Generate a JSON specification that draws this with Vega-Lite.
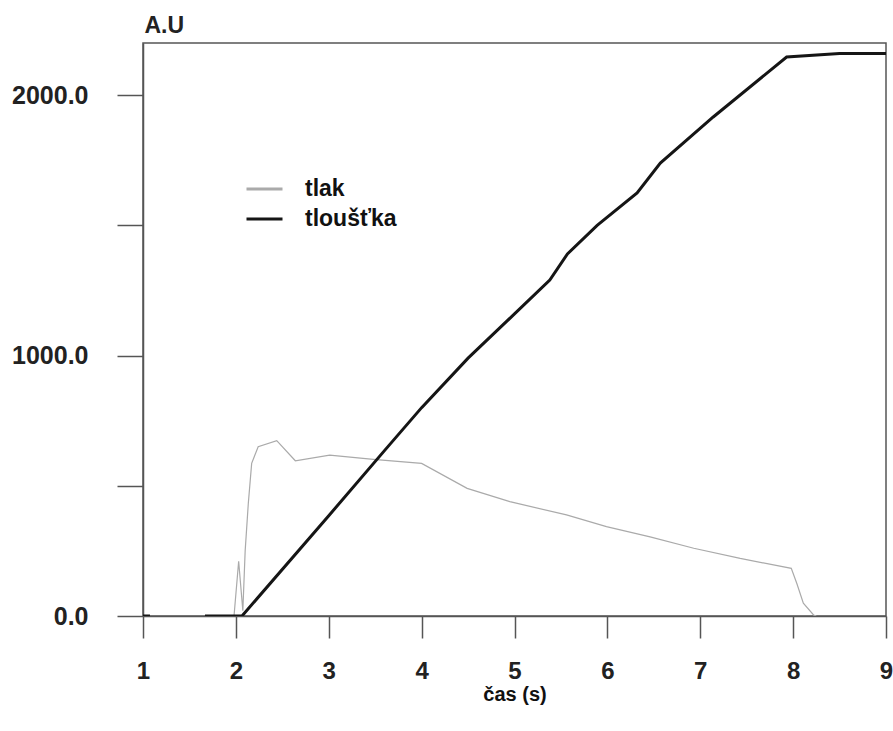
{
  "$schema": "https://vega.github.io/schema/vega-lite/v6.json",
  "width": 743,
  "height": 573,
  "autosize": {"type": "none"},
  "padding": {"left": 143, "top": 43, "right": 7, "bottom": 115},
  "background": "white",
  "config": {
    "font": "Liberation Sans",
    "view": {"stroke": "#555", "strokeWidth": 1.5},
    "axis": {"grid": false},
    "legend": {"symbolStrokeWidth": 3}
  },
  "data": {
    "values": [
      {"t": 1.0, "v": 0, "s": "tloušťka", "seg": "a"},
      {"t": 1.075, "v": 0, "s": "tloušťka", "seg": "a"},
      {"t": 1.667, "v": 0, "s": "tloušťka", "seg": "b"},
      {"t": 2.066, "v": 0, "s": "tloušťka", "seg": "b"},
      {"t": 3.0, "v": 385, "s": "tloušťka", "seg": "b"},
      {"t": 3.6, "v": 635, "s": "tloušťka", "seg": "b"},
      {"t": 4.0, "v": 800, "s": "tloušťka", "seg": "b"},
      {"t": 4.5, "v": 990, "s": "tloušťka", "seg": "b"},
      {"t": 5.0, "v": 1160, "s": "tloušťka", "seg": "b"},
      {"t": 5.38, "v": 1290, "s": "tloušťka", "seg": "b"},
      {"t": 5.57, "v": 1390, "s": "tloušťka", "seg": "b"},
      {"t": 5.89, "v": 1500, "s": "tloušťka", "seg": "b"},
      {"t": 6.32, "v": 1624, "s": "tloušťka", "seg": "b"},
      {"t": 6.57, "v": 1739, "s": "tloušťka", "seg": "b"},
      {"t": 7.14, "v": 1916, "s": "tloušťka", "seg": "b"},
      {"t": 7.93, "v": 2146, "s": "tloušťka", "seg": "b"},
      {"t": 8.5, "v": 2160, "s": "tloušťka", "seg": "b"},
      {"t": 9.0, "v": 2160, "s": "tloušťka", "seg": "b"},
      {"t": 1.98, "v": 0, "s": "tlak", "seg": "c"},
      {"t": 2.03, "v": 210, "s": "tlak", "seg": "c"},
      {"t": 2.075, "v": 20, "s": "tlak", "seg": "c"},
      {"t": 2.1, "v": 250, "s": "tlak", "seg": "c"},
      {"t": 2.134, "v": 433, "s": "tlak", "seg": "c"},
      {"t": 2.17, "v": 586, "s": "tlak", "seg": "c"},
      {"t": 2.24, "v": 650, "s": "tlak", "seg": "c"},
      {"t": 2.44, "v": 673, "s": "tlak", "seg": "c"},
      {"t": 2.64, "v": 596, "s": "tlak", "seg": "c"},
      {"t": 3.01, "v": 618, "s": "tlak", "seg": "c"},
      {"t": 3.48, "v": 601, "s": "tlak", "seg": "c"},
      {"t": 4.0, "v": 586, "s": "tlak", "seg": "c"},
      {"t": 4.49, "v": 490, "s": "tlak", "seg": "c"},
      {"t": 4.95, "v": 439, "s": "tlak", "seg": "c"},
      {"t": 5.56, "v": 388, "s": "tlak", "seg": "c"},
      {"t": 5.99, "v": 343, "s": "tlak", "seg": "c"},
      {"t": 6.46, "v": 304, "s": "tlak", "seg": "c"},
      {"t": 6.93, "v": 260, "s": "tlak", "seg": "c"},
      {"t": 7.43, "v": 221, "s": "tlak", "seg": "c"},
      {"t": 7.98, "v": 183, "s": "tlak", "seg": "c"},
      {"t": 8.04, "v": 125, "s": "tlak", "seg": "c"},
      {"t": 8.11, "v": 49, "s": "tlak", "seg": "c"},
      {"t": 8.22, "v": 4, "s": "tlak", "seg": "c"},
      {"t": 8.25, "v": 0, "s": "tlak", "seg": "c"}
    ]
  },
  "encoding": {
    "x": {
      "field": "t", "type": "quantitative",
      "scale": {"domain": [1, 9], "nice": false, "zero": false},
      "axis": {
        "values": [1, 2, 3, 4, 5, 6, 7, 8, 9],
        "labelFlush": false,
        "title": "čas (s)",
        "titleFontSize": 20, "titleFontWeight": "bold", "titleColor": "#111",
        "titleY": 84, "titleBaseline": "alphabetic",
        "labelFontSize": 24, "labelFontWeight": "bold", "labelColor": "#222", "labelPadding": 21,
        "tickSize": 22, "tickColor": "#555", "tickWidth": 1.5,
        "domainColor": "#555", "domainWidth": 1.5
      }
    },
    "y": {
      "field": "v", "type": "quantitative",
      "scale": {"domain": [0, 2200], "nice": false},
      "axis": {
        "values": [0, 500, 1000, 1500, 2000],
        "labelExpr": "datum.value % 1000 == 0 ? format(datum.value, '.1f') : ''",
        "title": "A.U",
        "titleAngle": 0, "titleX": 1, "titleY": -11, "titleAlign": "left", "titleBaseline": "alphabetic",
        "titleFontSize": 23, "titleFontWeight": "bold", "titleColor": "#222",
        "labelFontSize": 25, "labelFontWeight": "bold", "labelColor": "#222", "labelPadding": 29,
        "tickSize": 26, "tickColor": "#555", "tickWidth": 1.5,
        "domainColor": "#555", "domainWidth": 1.5
      }
    },
    "color": {
      "field": "s", "type": "nominal",
      "scale": {"domain": ["tlak", "tloušťka"], "range": ["#aaaaaa", "#151515"]},
      "legend": {
        "title": null, "orient": "none", "legendX": 102, "legendY": 133,
        "symbolType": "stroke", "symbolSize": 1296, "symbolStrokeWidth": 3,
        "labelFontSize": 23, "labelFontWeight": "bold", "labelColor": "#111", "labelOffset": 21,
        "clipHeight": 26, "rowPadding": 4
      }
    },
    "detail": {"field": "seg"}
  },
  "layer": [
    {
      "transform": [{"filter": "datum.s == 'tlak'"}],
      "mark": {"type": "line", "clip": true, "strokeWidth": 1.2}
    },
    {
      "transform": [{"filter": "datum.s == 'tloušťka'"}],
      "mark": {"type": "line", "clip": true, "strokeWidth": 3}
    }
  ]
}
